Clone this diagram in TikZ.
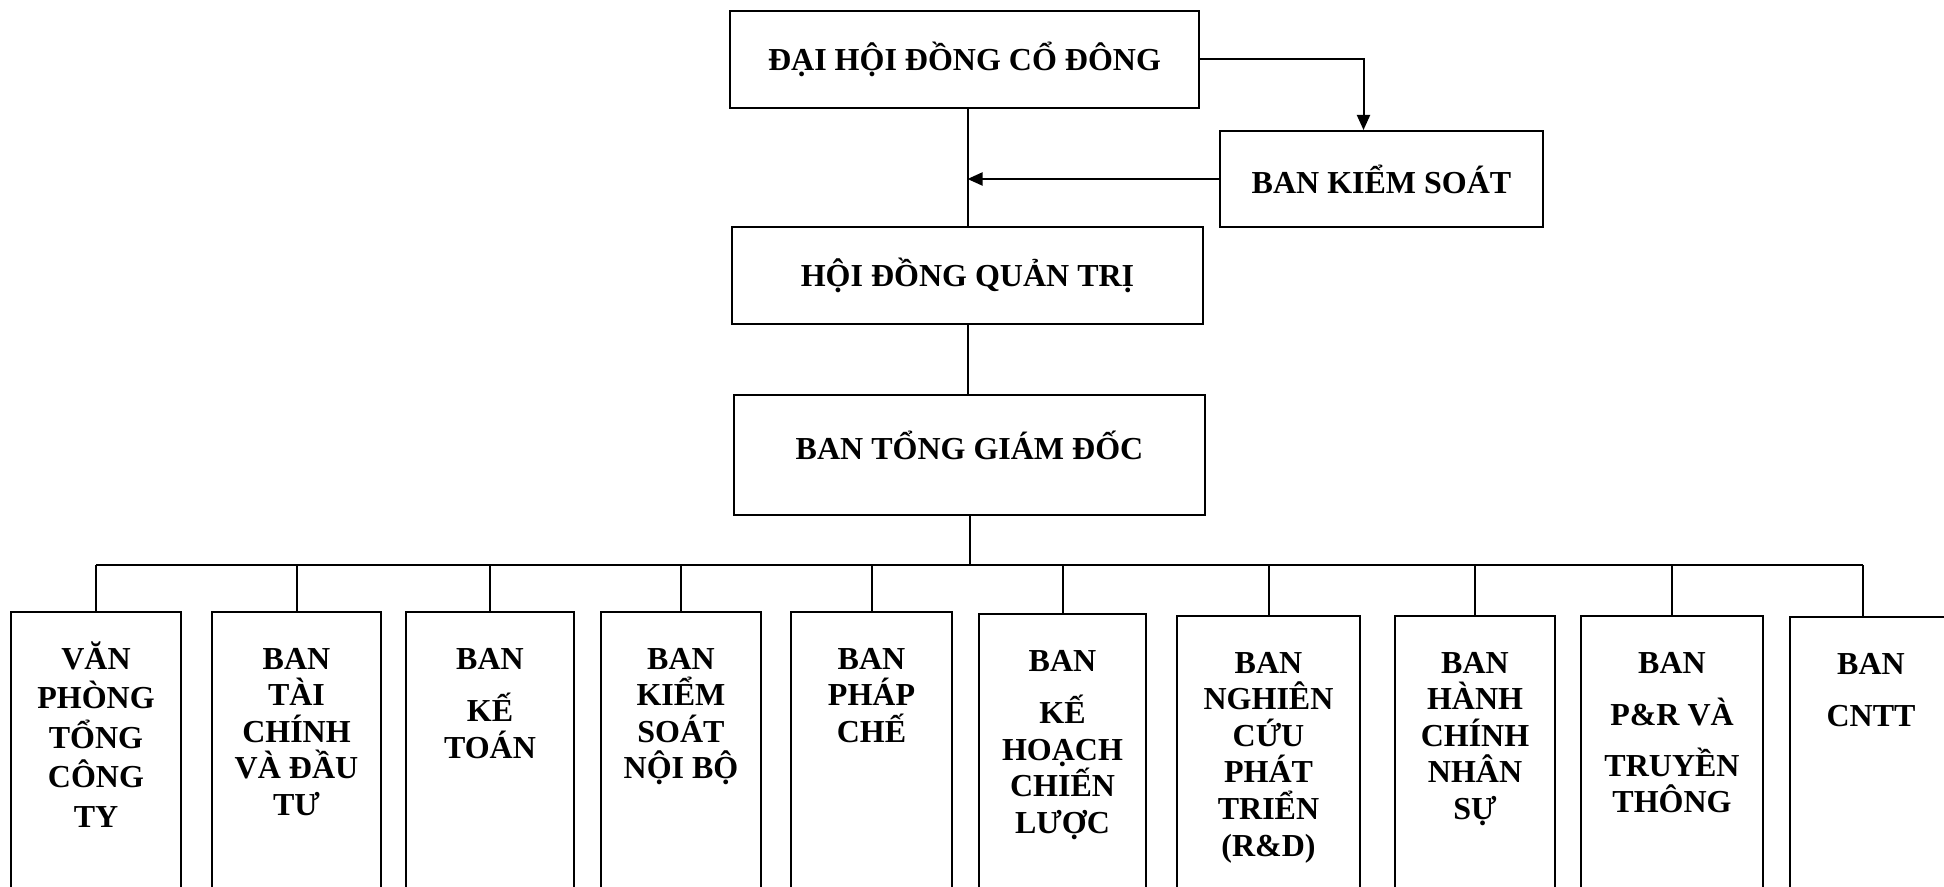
\documentclass[tikz,border=0pt]{standalone}
\usepackage{fontspec}
\setmainfont{Liberation Serif}
\usetikzlibrary{arrows.meta}
\newcommand{\dstrut}{\rule{0pt}{16pt}}

\begin{document}
\begin{tikzpicture}[x=0.5pt,y=-0.5pt,>={Triangle[length=7.5pt,width=6.5pt]},line width=1pt,
  main node/.style={rectangle,draw,line width=1pt,inner sep=0pt,font=\fontsize{16}{18.3}\selectfont\bfseries},
  dept node/.style={rectangle,draw,line width=1pt,anchor=north,minimum height=150pt},
  dept text/.style={anchor=north,yshift=-12.5pt,align=center,inner sep=0pt,
    font=\fontsize{16}{18.3}\selectfont\bfseries}]

  \useasboundingbox (0,0) rectangle (1944,887);
  \clip (0,0) rectangle (1944,887);

  \node[main node, minimum width=234.5pt, minimum height=48.5pt] (dhcd) at (964.5,59.5) {ĐẠI HỘI ĐỒNG CỔ ĐÔNG};
  \node[main node, minimum width=161.5pt, minimum height=48pt] (bks) at (1381.5,179) {BAN KIỂM SOÁT};
  \node[main node, minimum width=235.5pt, minimum height=48.3pt] (hdqt) at (967.5,275.3) {HỘI ĐỒNG QUẢN TRỊ};
  \node[main node, minimum width=235.5pt, minimum height=60.2pt, text depth=10.5pt] (btgd) at (969.5,455.3) {BAN TỔNG GIÁM ĐỐC};

  \node[dept node, minimum width=85pt] (vp) at (96,611) {};
  \node[dept node, minimum width=84.5pt] (tc) at (296.5,611) {};
  \node[dept node, minimum width=84pt] (kt) at (490,611) {};
  \node[dept node, minimum width=80pt] (ksnb) at (681,611) {};
  \node[dept node, minimum width=80.5pt] (pc) at (871.5,611) {};
  \node[dept node, minimum width=83.5pt] (khcl) at (1062.5,613) {};
  \node[dept node, minimum width=91.5pt] (rd) at (1268.5,615) {};
  \node[dept node, minimum width=80pt] (hcns) at (1475,615) {};
  \node[dept node, minimum width=91pt] (pr) at (1672,615) {};
  \node[dept node, minimum width=81pt] (cntt) at (1871,616) {};

  \node[dept text] (vp text) at (vp.north) {\dstrut VĂN\\[1.5pt]PHÒNG\\[1.5pt]TỔNG\\[1.5pt]CÔNG\\[1.5pt]TY};
  \node[dept text] (tc text) at (tc.north) {\dstrut BAN\\TÀI\\CHÍNH\\VÀ ĐẦU\\TƯ};
  \node[dept text] (kt text) at (kt.north) {\dstrut BAN\\[8pt]KẾ\\TOÁN};
  \node[dept text] (ksnb text) at (ksnb.north) {\dstrut BAN\\KIỂM\\SOÁT\\NỘI BỘ};
  \node[dept text] (pc text) at (pc.north) {\dstrut BAN\\PHÁP\\CHẾ};
  \node[dept text] (khcl text) at (khcl.north) {\dstrut BAN\\[8pt]KẾ\\HOẠCH\\CHIẾN\\LƯỢC};
  \node[dept text] (rd text) at (rd.north) {\dstrut BAN\\NGHIÊN\\CỨU\\PHÁT\\TRIỂN\\(R\&D)};
  \node[dept text] (hcns text) at (hcns.north) {\dstrut BAN\\HÀNH\\CHÍNH\\NHÂN\\SỰ};
  \node[dept text] (pr text) at (pr.north) {\dstrut BAN\\[8pt]P\&R VÀ\\[7pt]TRUYỀN\\THÔNG};
  \node[dept text] (cntt text) at (cntt.north) {\dstrut BAN\\[8pt]CNTT};

  \coordinate (bus) at (0,565);
  \coordinate (cntt top) at ([xshift=-4pt]cntt.north);

  \draw (hdqt.north |- dhcd.south) -- (hdqt.north);
  \draw[->] (dhcd.east) -| ([xshift=-9pt]bks.north);
  \draw[->] (bks.west) -- (bks.west -| hdqt.north);
  \draw (hdqt.south) -- (hdqt.south |- btgd.north);
  \draw (btgd.south) -- (btgd.south |- bus);
  \draw (vp.north |- bus) -- (cntt top |- bus);

  \path
    (vp.north |- bus) edge (vp.north)
    (tc.north |- bus) edge (tc.north)
    (kt.north |- bus) edge (kt.north)
    (ksnb.north |- bus) edge (ksnb.north)
    (pc.north |- bus) edge (pc.north)
    (khcl.north |- bus) edge (khcl.north)
    (rd.north |- bus) edge (rd.north)
    (hcns.north |- bus) edge (hcns.north)
    (pr.north |- bus) edge (pr.north)
    (cntt top |- bus) edge (cntt top)
    ;
\end{tikzpicture}
\end{document}
